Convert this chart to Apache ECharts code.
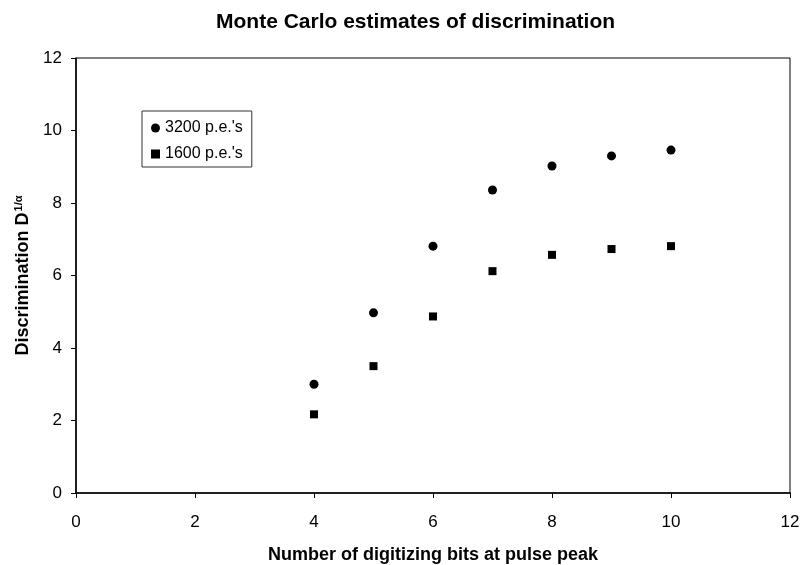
<!DOCTYPE html>
<html>
<head>
<meta charset="utf-8">
<script src="https://cdn.jsdelivr.net/npm/echarts@6/dist/echarts.min.js"></script>
<style>
  html, body { margin: 0; padding: 0; background: #fff; }
  #chart { width: 801px; height: 565px; }
</style>
</head>
<body>
<div id="chart"></div>
<script>
// number of digitizing bits
var bits = [4, 5, 6, 7, 8, 9, 10];
// discrimination estimates
var pe3200 = [3.0, 4.97, 6.81, 8.36, 9.02, 9.3, 9.46];
var pe1600 = [2.17, 3.5, 4.87, 6.12, 6.57, 6.73, 6.81];

var FONT = '"Liberation Sans", Arial, sans-serif';

function pairs(ys) {
  return bits.map(function (b, i) { return [b, ys[i]]; });
}

var chart = echarts.init(document.getElementById('chart'));

chart.setOption({
  animation: false,
  backgroundColor: '#fff',
  title: {
    text: 'Monte Carlo estimates of discrimination',
    left: 211,
    top: 7,
    textStyle: { fontFamily: FONT, fontSize: 21, fontWeight: 'bold', color: '#000' }
  },
  legend: {
    orient: 'vertical',
    left: 142,
    top: 111,
    padding: [9, 9, 5, 9],
    itemGap: 10,
    itemWidth: 9,
    itemHeight: 9,
    borderColor: '#333',
    borderWidth: 1,
    textStyle: { fontFamily: FONT, fontSize: 16, color: '#000', lineHeight: 16 },
    data: [
      { name: "3200 p.e.'s", icon: 'circle' },
      { name: "1600 p.e.'s", icon: 'rect' }
    ]
  },
  grid: {
    left: 76, right: 11, top: 58, bottom: 72,
    outerBoundsMode: 'none',
    containLabel: false,
    show: true, borderColor: '#000', borderWidth: 1
  },
  xAxis: {
    type: 'value',
    min: 0, max: 12, interval: 2,
    name: 'Number of digitizing bits at pulse peak',
    nameLocation: 'middle',
    nameGap: 53,
    nameTextStyle: { fontFamily: FONT, fontSize: 18, fontWeight: 'bold', color: '#000' },
    axisLine: { show: true, lineStyle: { color: '#000', width: 1.5 } },
    axisTick: { show: true, inside: false, length: 5, lineStyle: { color: '#000' } },
    axisLabel: { fontFamily: FONT, fontSize: 17, color: '#000', margin: 21 },
    splitLine: { show: false }
  },
  yAxis: {
    type: 'value',
    min: 0, max: 12, interval: 2,
    name: '{a|Discrimination D}{s|1/α}',
    nameLocation: 'middle',
    nameGap: 43,
    nameTextStyle: {
      rich: {
        a: { fontFamily: FONT, fontSize: 18, fontWeight: 'bold', color: '#000' },
        s: { fontFamily: FONT, fontSize: 11, fontWeight: 'bold', color: '#000', verticalAlign: 'top', padding: [0, 0, 9, 1] }
      }
    },
    axisLine: { show: true, lineStyle: { color: '#000', width: 1.5 } },
    axisTick: { show: true, inside: false, length: 5, lineStyle: { color: '#000' } },
    axisLabel: { fontFamily: FONT, fontSize: 17, color: '#000', margin: 14 },
    splitLine: { show: false }
  },
  series: [
    {
      name: "3200 p.e.'s",
      type: 'scatter',
      symbol: 'circle',
      symbolSize: 9,
      itemStyle: { color: '#000', opacity: 1 },
      data: pairs(pe3200)
    },
    {
      name: "1600 p.e.'s",
      type: 'scatter',
      symbol: 'rect',
      symbolSize: 8,
      itemStyle: { color: '#000', opacity: 1 },
      data: pairs(pe1600)
    }
  ]
});
</script>
</body>
</html>
